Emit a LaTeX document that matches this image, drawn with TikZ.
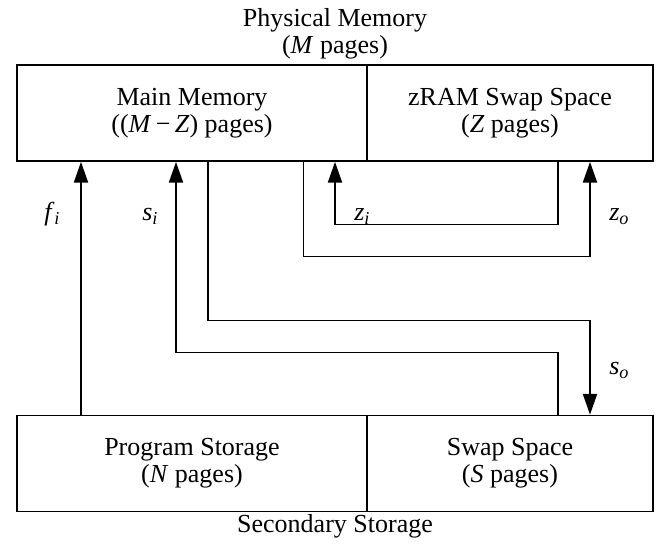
\documentclass[tikz,border=0pt]{standalone}
\usepackage{fontspec}
\setmainfont{Liberation Serif}
\usetikzlibrary{arrows.meta}
\newcommand\lblsub[2]{\textit{#1}\textsubscript{\textit{#2}}}
\begin{document}
\begin{tikzpicture}[x=0.75pt,y=-0.75pt,
  every node/.style={font=\fontsize{19.5}{20.3}\selectfont},
  box/.style={draw, line width=1.3pt, inner sep=0pt, align=center, minimum height=72pt},
  leftbox/.style={box, minimum width=262.5pt},
  rightbox/.style={box, minimum width=214.5pt},
  arr/.style={line width=1.4pt, line join=miter, -{Triangle[length=15.5pt,width=10.5pt]}},
  lbl/.style={anchor=base west, inner sep=0pt}]
\useasboundingbox (0,0) rectangle (660,544);
% boxes
\node[leftbox]  (mm) at (192,113) {Main Memory\\((\textit{M}\,−\,\textit{Z}) pages)};
\node[rightbox] (zr) at (510,113) {zRAM Swap Space\\(\textit{Z} pages)};
\node[leftbox]  (ps) at (192,463.5) {Program Storage\\(\textit{N} pages)};
\node[rightbox] (ss) at (510,463.5) {Swap Space\\(\textit{S} pages)};
% group labels
\node[align=center] (pm) at (335,34) {Physical Memory\\(\textit{M} pages)};
\node (sec) at (335,526) {Secondary Storage};
% bend points
\coordinate (siB) at (176,352.5);
\coordinate (soB) at (590,320.5);
\coordinate (ziB) at (335,224.5);
\coordinate (zoB) at (590,256.5);
% connectors
\draw[arr] (81,0 |- ps.north) -- (81,0 |- mm.south);
\draw[arr] (558,0 |- ss.north) |- (siB) -- (siB |- mm.south);
\draw[arr] (208,0 |- mm.south) |- (soB) -- (soB |- ss.north);
\draw[arr] (558,0 |- zr.south) |- (ziB) -- (ziB |- mm.south);
\draw[arr] (303.5,0 |- mm.south) |- (zoB) -- (zoB |- zr.south);
% labels
\node[lbl] (lfi) at (44,220) {\lblsub{f}{i}};
\node[lbl] (lsi) at (142,220) {\lblsub{s}{i}};
\node[lbl] (lzi) at (354,220) {\lblsub{z}{i}};
\node[lbl] (lzo) at (609,220) {\lblsub{z}{o}};
\node[lbl] (lso) at (609,374) {\lblsub{s}{o}};
\end{tikzpicture}
\end{document}
